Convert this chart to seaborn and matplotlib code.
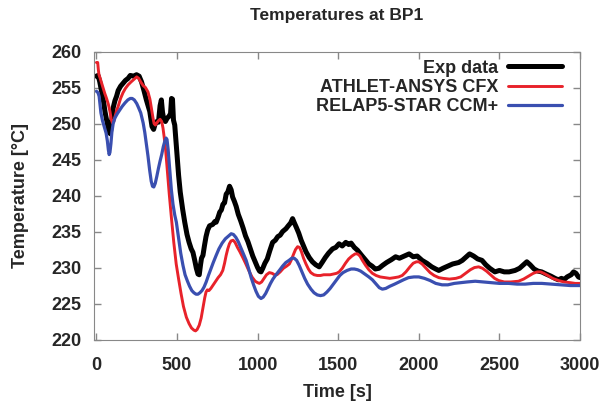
import seaborn as sns
import matplotlib.pyplot as plt

exp_t = [0, 10, 20, 32, 45, 53, 65, 78, 86, 95, 104, 115, 125, 135, 150, 165, 180,
         197, 210, 230, 249, 265, 280, 295, 310, 331, 345, 355, 365, 375, 385, 395,
         403, 410, 418, 428, 440, 450, 460, 466, 472, 478, 486, 492, 500, 510, 520,
         535, 548, 562, 575, 588, 599, 610, 620, 630, 638, 646, 652, 661, 670, 680,
         690, 702, 712, 722, 735, 743, 755, 765, 775, 785, 795, 805, 815, 826, 836,
         845, 856, 867, 880, 895, 910, 925, 940, 955, 970, 985, 1000, 1012, 1021,
         1032, 1045, 1060, 1075, 1093, 1110, 1125, 1140, 1155, 1176, 1190, 1205,
         1217, 1228, 1240, 1255, 1270, 1285, 1300, 1320, 1340, 1360, 1382, 1400,
         1420, 1440, 1465, 1485, 1505, 1525, 1547, 1565, 1580, 1600, 1620, 1645,
         1671, 1690, 1710, 1730, 1753, 1775, 1800, 1830, 1856, 1880, 1910, 1940,
         1965, 1990, 2020, 2050, 2080, 2105, 2124, 2150, 2180, 2210, 2247, 2270,
         2295, 2315, 2340, 2365, 2392, 2415, 2440, 2472, 2500, 2530, 2560, 2597,
         2625, 2650, 2670, 2690, 2715, 2740, 2762, 2790, 2820, 2845, 2865, 2885,
         2900, 2920, 2945, 2960, 2975, 2990, 3000]
exp_T = [256.6, 256.7, 255.9, 254.5, 253.0, 251.7, 250.3, 248.8, 248.6, 250.4,
         252.2, 253.2, 253.8, 254.6, 255.2, 255.6, 256.0, 256.3, 256.7, 256.6,
         256.8, 256.6, 255.8, 254.6, 253.3, 251.7, 249.6, 249.2, 250.0, 250.3,
         250.2, 252.5, 253.3, 251.6, 250.6, 250.3, 250.8, 251.0, 251.4, 253.5,
         253.4, 250.5, 249.8, 248.0, 245.5, 242.8, 240.5, 238.1, 236.3, 234.6,
         233.5, 232.6, 232.1, 231.0, 229.9, 229.1, 229.0, 230.4, 231.3, 231.7,
         233.0, 234.3, 235.2, 235.8, 235.9, 236.0, 236.4, 236.3, 237.0, 237.7,
         238.0, 238.8, 239.0, 240.2, 240.5, 241.3, 240.8, 239.8, 239.2, 238.5,
         237.4, 236.5, 235.5, 234.4, 233.6, 232.6, 231.6, 230.8, 230.0, 229.5,
         229.4, 229.9, 230.6, 231.2, 232.3, 233.5, 233.8, 234.3, 234.5, 235.0,
         235.4, 235.8, 236.2, 236.8, 236.2, 235.6, 234.8, 233.8, 233.0, 232.2,
         231.4, 230.8, 230.4, 230.1, 230.7, 231.4, 232.0, 232.6, 232.8, 233.3,
         233.0, 233.5, 233.2, 233.4, 232.8, 232.4, 231.7, 231.0, 230.5, 230.2,
         229.8, 229.9, 230.3, 230.7, 231.1, 231.5, 231.3, 231.6, 231.9, 231.5,
         231.6, 231.0, 230.6, 230.1, 229.8, 229.6, 229.9, 230.2, 230.5, 230.7,
         231.0, 231.5, 231.9, 231.6, 231.2, 231.0, 230.4, 229.9, 229.4, 229.6,
         229.4, 229.4, 229.6, 229.9, 230.4, 230.8, 230.4, 229.8, 229.5, 229.4,
         229.1, 228.8, 228.5, 228.3, 228.5, 228.3, 228.7, 229.0, 229.4, 229.2,
         228.7, 228.6]

# ATHLET-ANSYS CFX
athlet_t = [0, 8, 12, 16, 22, 30, 42, 52, 63, 74, 84, 92, 100, 108, 116, 125, 135,
            150, 165, 180, 197, 215, 235, 250, 262, 275, 290, 305, 320, 332, 342,
            351, 358, 366, 375, 385, 395, 405, 413, 420, 430, 440, 452, 465, 480,
            495, 510, 525, 540, 558, 575, 590, 605, 615, 625, 638, 650, 662, 672,
            680, 688, 698, 710, 725, 740, 755, 770, 784, 795, 805, 815, 825, 835,
            848, 860, 875, 890, 908, 925, 945, 965, 985, 1000, 1011, 1025, 1040,
            1055, 1073, 1090, 1105, 1120, 1140, 1160, 1180, 1197, 1210, 1222, 1235,
            1248, 1260, 1272, 1285, 1300, 1315, 1330, 1350, 1370, 1390, 1410, 1430,
            1450, 1470, 1490, 1506, 1525, 1545, 1565, 1585, 1605, 1620, 1635, 1650,
            1670, 1690, 1712, 1735, 1760, 1790, 1820, 1850, 1875, 1897, 1920, 1945,
            1965, 1985, 2000, 2020, 2045, 2070, 2095, 2124, 2150, 2190, 2230, 2260,
            2290, 2320, 2345, 2371, 2395, 2420, 2445, 2470, 2495, 2530, 2570, 2618,
            2650, 2680, 2710, 2735, 2755, 2775, 2800, 2830, 2866, 2900, 2940, 2970,
            3000]
athlet_T = [258.5, 258.5, 257.5, 256.8, 256.4, 255.8, 254.9, 254.2, 253.5, 252.7,
            251.7, 250.6, 250.1, 250.3, 251.0, 251.8, 252.4, 253.5, 254.3, 254.9,
            255.4, 255.8, 256.2, 256.5, 256.3, 255.8, 255.3, 255.0, 254.4, 253.4,
            252.0, 250.8, 250.0, 249.8, 250.1, 250.4, 250.6, 250.3, 249.4, 248.2,
            246.2, 243.4, 240.2, 237.0, 233.5, 230.5, 228.4, 226.4, 224.6, 223.1,
            222.2, 221.6, 221.3, 221.2, 221.4, 222.0, 223.0, 224.5, 225.8, 226.6,
            226.9, 226.8, 227.1, 227.6, 228.1, 228.6, 229.0, 229.6, 230.6, 231.7,
            232.6, 233.3, 233.7, 233.8, 233.5, 232.8, 232.2, 231.4, 230.6, 229.6,
            228.7, 228.1, 227.9, 227.8, 228.0, 228.5, 229.0, 229.3, 229.2, 229.0,
            229.0, 229.4, 229.9, 230.2, 230.5, 231.1, 231.8, 232.5, 232.9, 232.8,
            232.2, 231.3, 230.5, 229.8, 229.3, 229.0, 228.9, 228.9, 229.0, 229.0,
            229.0, 229.1, 229.2, 229.4, 229.9, 230.6, 231.2, 231.6, 231.9, 231.9,
            231.6, 231.0, 230.3, 229.7, 229.2, 228.9, 228.7, 228.6, 228.5, 228.6,
            228.7, 228.9, 229.4, 230.1, 230.6, 230.8, 230.8, 230.5, 229.9, 229.3,
            228.9, 228.6, 228.5, 228.4, 228.5, 228.7, 229.2, 229.7, 230.0, 230.1,
            229.9, 229.5, 229.0, 228.5, 228.2, 228.0, 228.0, 228.1, 228.4, 228.8,
            229.2, 229.4, 229.4, 229.2, 228.9, 228.5, 228.2, 228.0, 227.9, 227.8,
            227.8]

# RELAP5-STAR CCM+
relap_t = [0, 10, 17, 22, 28, 38, 50, 60, 68, 74, 79, 84, 90, 96, 104, 115, 130,
           145, 160, 178, 195, 210, 222, 235, 250, 262, 275, 290, 300, 310, 320,
           330, 340, 348, 356, 365, 375, 385, 395, 405, 415, 425, 432, 438, 445,
           454, 465, 475, 486, 496, 510, 523, 537, 550, 565, 578, 592, 605, 618,
           630, 642, 655, 668, 681, 695, 710, 725, 743, 760, 780, 800, 820, 836,
           850, 865, 880, 895, 910, 929, 945, 960, 975, 990, 1005, 1021, 1035,
           1050, 1065, 1080, 1095, 1114, 1135, 1155, 1175, 1195, 1212, 1227, 1242,
           1258, 1275, 1292, 1310, 1331, 1350, 1370, 1390, 1410, 1430, 1450, 1470,
           1490, 1510, 1530, 1555, 1580, 1600, 1620, 1640, 1665, 1690, 1712, 1735,
           1755, 1774, 1795, 1820, 1850, 1877, 1905, 1936, 1970, 2000, 2035, 2070,
           2105, 2144, 2180, 2220, 2260, 2300, 2350, 2400, 2450, 2500, 2557, 2610,
           2660, 2710, 2763, 2820, 2880, 2940, 3000]
relap_T = [254.5, 254.3, 253.8, 252.8, 251.5, 250.4, 249.5, 248.7, 247.6, 246.4,
           245.7, 246.0, 247.2, 248.8, 250.0, 250.8, 251.4, 251.9, 252.4, 252.9,
           253.3, 253.5, 253.5, 253.3, 252.8, 252.2, 251.5, 250.1, 248.8, 247.2,
           245.5, 243.6, 242.0, 241.3, 241.2, 241.7, 242.7, 243.8, 244.8, 245.7,
           246.8, 247.6, 248.0, 247.8, 246.4, 243.8, 240.8, 238.8, 237.3, 236.3,
           234.1, 232.0, 230.3, 229.0, 228.1, 227.4, 226.8, 226.5, 226.3, 226.3,
           226.5, 226.8, 227.3, 228.0, 228.9, 229.8, 230.7, 231.7, 232.6, 233.4,
           234.0, 234.4, 234.7, 234.6, 234.2, 233.6, 232.8, 232.0, 231.0, 229.8,
           228.6, 227.6, 226.7, 226.0, 225.7, 225.9, 226.4, 227.1, 227.8, 228.4,
           229.0, 229.6, 230.2, 230.7, 231.0, 231.3, 231.3, 231.0, 230.3, 229.4,
           228.5, 227.7, 227.0, 226.5, 226.2, 226.1, 226.2, 226.6, 227.1, 227.7,
           228.3, 228.9, 229.3, 229.6, 229.8, 229.8, 229.7, 229.5, 229.1, 228.7,
           228.3, 227.7, 227.2, 227.0, 227.1, 227.4, 227.7, 228.0, 228.3, 228.6,
           228.7, 228.7, 228.5, 228.2, 227.8, 227.6, 227.6, 227.8, 227.9, 228.0,
           228.1, 228.0, 227.9, 227.8, 227.8, 227.7, 227.7, 227.8, 227.8, 227.7,
           227.6, 227.5, 227.5]

sns.set_style("ticks")
plt.rcParams['font.family'] = ['Liberation Sans', 'DejaVu Sans']
plt.rcParams['font.weight'] = 'bold'

fig = plt.figure(figsize=(6.04, 4.07), dpi=100)
ax = fig.add_axes([0.1556, 0.1658, 0.8047, 0.7072])

sns.lineplot(x=exp_t, y=exp_T, color='black', linewidth=3.6, label='Exp data', ax=ax)
sns.lineplot(x=athlet_t, y=athlet_T, color='#e8222a', linewidth=2.1,
             label='ATHLET-ANSYS CFX', ax=ax)
sns.lineplot(x=relap_t, y=relap_T, color='#3a4fb0', linewidth=2.3,
             label='RELAP5-STAR CCM+', ax=ax)

ax.set_xlim(-15, 3000)
ax.set_ylim(220, 260)
ax.set_xticks(range(0, 3001, 500))
ax.set_yticks(range(220, 261, 5))
ax.tick_params(direction='in', length=5, width=1, top=True, right=True,
               labelsize=13, color='#888888')
ax.tick_params(axis='x', pad=12.5)
ax.tick_params(axis='y', pad=9)
for lab in ax.get_xticklabels() + ax.get_yticklabels():
    lab.set_fontweight('bold')
for sp in ax.spines.values():
    sp.set_visible(True)
    sp.set_color('#888888')

ax.set_xlabel('Time [s]', fontsize=13, fontweight='bold', labelpad=7)
ax.set_ylabel('Temperature [°C]', fontsize=13, fontweight='bold', labelpad=16)
fig.text(0.558, 0.962, 'Temperatures at BP1', ha='center', va='center',
         fontsize=12.5, fontweight='bold')

leg = ax.legend(loc='upper right', bbox_to_anchor=(0.962, 0.972), frameon=False,
                markerfirst=False, prop={'size': 13, 'weight': 'bold'},
                handlelength=2.95, labelspacing=0.13, borderaxespad=0,
                borderpad=0, handletextpad=0.55)

fig.savefig('out.png', dpi=100)
